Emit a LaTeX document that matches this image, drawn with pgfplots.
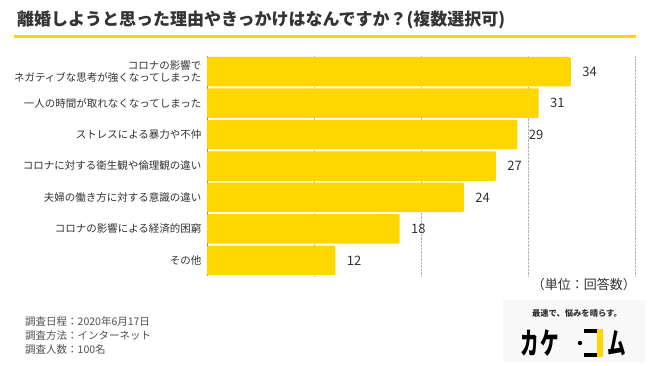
\documentclass[border=0pt]{standalone}
\usepackage{fontspec}
\setmainfont{Noto Sans CJK JP}
\usepackage{pgfplots}
\pgfplotsset{compat=1.18}
\definecolor{baryellow}{RGB}{255,215,0}
\definecolor{txt}{RGB}{51,51,51}
\definecolor{foot}{RGB}{80,80,80}
\definecolor{logobg}{RGB}{248,248,248}
\begin{document}
\begin{tikzpicture}[x=1pt,y=1pt]
\fill[white] (0,0) rectangle (650,365);
% title
\node[anchor=west,text=txt,inner sep=0pt] at (17,345.5) {\bfseries\fontsize{17}{17}\selectfont 離婚しようと思った理由やきっかけはなんですか？(複数選択可)};
\fill[baryellow] (13.5,327) rectangle (636,330);
\begin{axis}[
  at={(207pt,89pt)}, anchor=south west,
  scale only axis, width=428pt, height=220pt,
  xbar, bar width=29.5pt,
  xmin=0, xmax=40, ymin=-0.5, ymax=6.5, y dir=reverse,
  xtick={10,20,30,40}, xticklabels={},
  xmajorgrids, grid style={densely dotted, draw=black!30, line width=0.6pt},
  ytick={0,...,6},
  yticklabels={{コロナの影響で\\ネガティブな思考が強くなってしまった},{一人の時間が取れなくなってしまった},{ストレスによる暴力や不仲},{コロナに対する衛生観や倫理観の違い},{夫婦の働き方に対する意識の違い},{コロナの影響による経済的困窮},{その他}},
  yticklabel style={align=right, font=\fontsize{10.5}{11.5}\selectfont, text=txt, xshift=-2pt},
  major tick length=0pt,
  axis x line*=bottom,
  x axis line style={draw=none},
  axis y line*=left,
  y axis line style={draw=black!45, line width=0.8pt, -},
  /pgf/number format/assume math mode=true,
  nodes near coords,
  every node near coord/.append style={font=\fontsize{13}{13}\selectfont, text=txt, xshift=8pt},
  clip=false,
]
\addplot[fill=baryellow, draw=none, rounded corners=1pt] coordinates {(34,0) (31,1) (29,2) (27,3) (24,4) (18,5) (12,6)};
\end{axis}
% unit
\node[anchor=east,text=txt,inner sep=0pt] at (636,80) {\fontsize{13}{13}\selectfont （単位：回答数）};
% footer
\node[anchor=west,text=foot,inner sep=0pt] at (25,43) {\fontsize{10.5}{10.5}\selectfont 調査日程：2020年6月17日};
\node[anchor=west,text=foot,inner sep=0pt] at (25,29) {\fontsize{10.5}{10.5}\selectfont 調査方法：インターネット};
\node[anchor=west,text=foot,inner sep=0pt] at (25,15) {\fontsize{10.5}{10.5}\selectfont 調査人数：100名};
% logo
\fill[logobg] (503,3) rectangle (645,65);
\node[text=txt,inner sep=0pt] at (577,52) {\bfseries\fontsize{8.3}{8.3}\selectfont 最速で、悩みを晴らす。};
\node[inner sep=0pt,xscale=0.62] at (530,22) {\bfseries\fontsize{30}{30}\selectfont カ};
\node[inner sep=0pt,xscale=0.62] at (549.5,22) {\bfseries\fontsize{30}{30}\selectfont ケ};
\fill[black] (580,22) circle (2.2);
\draw[black,line width=4.5pt] (584,34) -- (598,34);
\draw[black,line width=4.5pt] (584,10) -- (598,10);
\fill[baryellow] (597,7.75) rectangle (603,36.25);
\node[inner sep=0pt,xscale=0.62] at (616.5,22) {\bfseries\fontsize{30}{30}\selectfont ム};
\end{tikzpicture}
\end{document}
